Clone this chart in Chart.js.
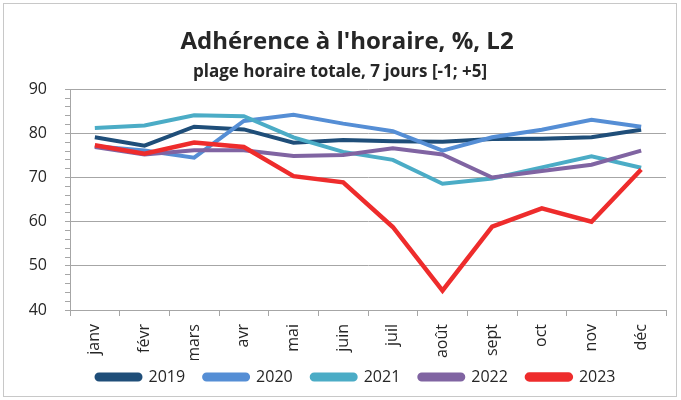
<!DOCTYPE html>
<html>
<head>
<meta charset="utf-8">
<script src="https://cdn.jsdelivr.net/npm/chart.js@4"></script>
<style>
  body { margin: 0; background: #fff; }
  #box { position: absolute; left: 3px; top: 3px; width: 672px; height: 392px; border: 1px solid #c8c8c8; }
</style>
</head>
<body>
<div id="box"><canvas id="lineChart"></canvas></div>
<script>
/* ---------------------------------------------------
   data
----------------------------------------------------- */
var months = ["janv", "févr", "mars", "avr", "mai", "juin", "juil", "août", "sept", "oct", "nov", "déc"];
var years = ["2019", "2020", "2021", "2022", "2023"];
var v2019 = [79.1, 77.2, 81.5, 80.9, 77.9, 78.5, 78.2, 78.1, 78.7, 78.8, 79.1, 80.8];
var v2020 = [77.1, 76.1, 74.5, 82.8, 84.2, 82.2, 80.5, 76.1, 79.1, 80.8, 83.1, 81.5];
var v2021 = [81.2, 81.8, 84.1, 83.9, 79.1, 75.8, 74.0, 68.6, 69.8, 72.3, 74.8, 72.2];
var v2022 = [76.9, 75.2, 76.2, 76.2, 74.9, 75.1, 76.6, 75.2, 70.0, 71.5, 72.9, 76.1];
var v2023 = [77.3, 75.4, 77.9, 76.9, 70.3, 68.9, 58.8, 44.4, 58.9, 63.0, 60.0, 71.8];
var colors = ["#1f4e79", "#558ed5", "#4bacc6", "#8064a2", "#ee2c2c"];

var series = [v2019, v2020, v2021, v2022, v2023];
var datasets = [];
for (var i = 0; i < years.length; i++) {
    datasets.push({
        label: years[i],
        data: series[i],
        borderColor: colors[i],
        backgroundColor: colors[i],
        borderWidth: i == 4 ? 4.5 : 4,
        pointRadius: 0,
        tension: 0,
        order: years.length - i
    });
}

var txt = "#262626";
var gridCol = "#a6a6a6";
var fam = "'Open Sans'";

// title and legend in the reference sit a bit right of centre
var boxShift = {
    id: 'boxShift',
    afterLayout: function (chart) {
        chart.boxes.forEach(function (b) {
            var dx = 0, dy = 0;
            if (b === chart.legend) { dx = 21; dy = -10; }
            else if (b.options && b.options.text === chart.options.plugins.title.text) dx = 12;
            else if (b.options && b.options.text === chart.options.plugins.subtitle.text) dx = 5;
            b.left += dx; b.right += dx;
            b.top += dy; b.bottom += dy;
        });
    }
};

/* ---------------------------------------------------
   chart
----------------------------------------------------- */
var ctx = document.getElementById("lineChart").getContext('2d');
var chart = new Chart(ctx, {
    type: 'line',
    data: { labels: months, datasets: datasets },
    plugins: [boxShift],
    options: {
        responsive: true,
        maintainAspectRatio: false,
        animation: false,
        layout: { padding: { left: 0, right: 10, top: 0, bottom: 1 } },
        plugins: {
            title: {
                display: true,
                text: "Adhérence à l'horaire, %, L2",
                color: txt,
                font: { family: fam, size: 24, weight: 'bold' },
                padding: { top: 24, bottom: 0 }
            },
            subtitle: {
                display: true,
                text: "plage horaire totale, 7 jours [-1; +5]",
                color: txt,
                font: { family: fam, size: 17, weight: 'bold' },
                padding: { top: 5, bottom: 7 }
            },
            legend: {
                position: 'bottom',
                maxHeight: 35,
                labels: {
                    boxWidth: 44,
                    boxHeight: 5,
                    useBorderRadius: true,
                    borderRadius: 2.5,
                    color: txt,
                    padding: 19,
                    font: { family: fam, size: 16 },
                    sort: function (a, b) { return a.datasetIndex - b.datasetIndex; }
                }
            },
            tooltip: { enabled: false }
        },
        scales: {
            x: {
                offset: true,
                afterFit: function (scale) { scale.height = 50; },
                grid: { offset: true, drawOnChartArea: false, drawTicks: true, tickLength: 6, color: gridCol },
                border: { color: gridCol },
                ticks: {
                    color: txt, maxRotation: 90, minRotation: 90, autoSkip: false, padding: 8,
                    font: { family: fam, size: 16 }
                }
            },
            y: {
                min: 40, max: 90,
                afterFit: function (scale) { scale.width = 66; },
                grid: {
                    color: function (c) { return c.tick && c.tick.value % 10 === 0 ? gridCol : 'rgba(0,0,0,0)'; },
                    tickColor: gridCol,
                    tickLength: 5
                },
                border: { color: gridCol },
                ticks: {
                    stepSize: 2, autoSkip: false, color: txt, padding: 18,
                    font: { family: fam, size: 16 },
                    callback: function (v) { return v % 10 === 0 ? v : ''; }
                }
            }
        }
    }
});
</script>
</body>
</html>
